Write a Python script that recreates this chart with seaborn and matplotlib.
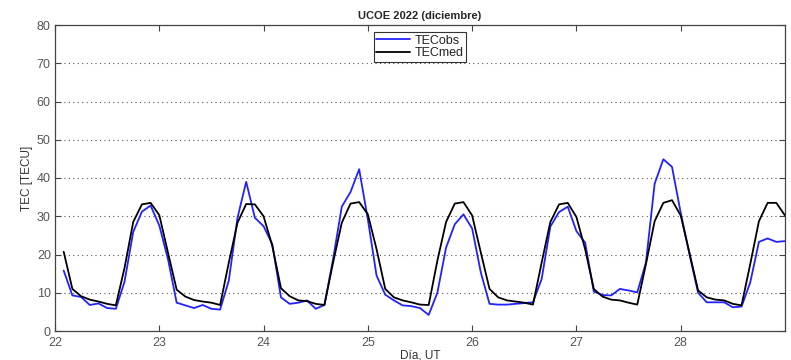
import numpy as np
import pandas as pd
import matplotlib
matplotlib.use("Agg")
import matplotlib.pyplot as plt
import seaborn as sns

# Time: every 2 h from 22 Dec 02 UT to 29 Dec 00 UT (day-of-month units)
steps = list(range(1, 85))
tec_med = [20.7, 11, 9.1, 8.2, 7.7, 7.1, 6.7, 16.5, 28.5, 33.1, 33.5, 30.3,
           20.5, 10.8, 9.0, 8.1, 7.7, 7.4, 6.8, 17.9, 28.3, 33.2, 33.1, 30.0,
           22.3, 11.2, 9.1, 8.0, 7.8, 7.1, 6.8, 17.9, 28.3, 33.3, 33.7, 30.5,
           21.4, 11.0, 8.8, 8.0, 7.5, 6.9, 6.8, 18.4, 28.5, 33.3, 33.7, 30.2,
           20.5, 11.0, 8.8, 8.0, 7.7, 7.4, 6.9, 17.9, 28.5, 33.1, 33.5, 29.8,
           21.4, 11.0, 9.0, 8.2, 8.0, 7.4, 6.9, 17.5, 28.7, 33.5, 34.2, 30.2,
           20.5, 10.6, 8.8, 8.2, 8.0, 7.1, 6.7, 17.5, 28.7, 33.5, 33.5, 30.2]
tec_obs = [15.8, 9.3, 8.9, 6.8, 7.2, 6.0, 5.8, 12.9, 25.9, 31.2, 32.8, 27.6,
           18.8, 7.4, 6.7, 6.0, 6.8, 5.8, 5.6, 13.2, 29.6, 39.0, 29.6, 27.4,
           22.7, 8.8, 7.1, 7.4, 8.0, 5.8, 6.8, 18.8, 32.5, 36.3, 42.3, 29.2,
           14.5, 9.5, 8.0, 6.7, 6.5, 6.0, 4.2, 10.0, 21.8, 27.9, 30.5, 26.8,
           15.3, 7.1, 6.9, 6.9, 7.1, 7.3, 7.5, 13.6, 27.3, 31.1, 32.5, 26.1,
           23.1, 10.3, 9.4, 9.3, 11.0, 10.6, 10.1, 17.9, 38.5, 44.9, 42.9, 30.9,
           20.1, 10.0, 7.5, 7.5, 7.5, 6.2, 6.4, 12.7, 23.3, 24.2, 23.3, 23.5]
x_ticks = [22, 23, 24, 25, 26, 27, 28]
y_ticks = [0, 10, 20, 30, 40, 50, 60, 70, 80]

day = [22 + s / 12 for s in steps]
df = pd.DataFrame({"day": day * 2,
                   "TEC": tec_obs + tec_med,
                   "serie": ["TECobs"] * len(day) + ["TECmed"] * len(day)})

sns.set_style("white")
plt.rcParams['font.family'] = ['Liberation Sans', 'DejaVu Sans']

fig = plt.figure(figsize=(7.91, 3.6), dpi=100)
ax = fig.add_axes([55 / 791, 29 / 360, 730 / 791, 306 / 360])

sns.lineplot(data=df, x="day", y="TEC", hue="serie",
             palette={"TECobs": "#2222ff", "TECmed": "#000000"},
             linewidth=1.3, ax=ax)

ax.set_xlim(22, 29)
ax.set_ylim(0, 80)
ax.set_xticks(x_ticks)
ax.set_yticks(y_ticks)
ax.set_xticklabels([str(t) for t in x_ticks])
ax.set_yticklabels([str(t) for t in y_ticks])
ax.yaxis.grid(True, linestyle=(0, (1, 3)), color="#555555", linewidth=0.8)
ax.xaxis.grid(False)
ax.tick_params(direction="in", length=4, width=0.8, colors="#444444",
               labelsize=9, top=True, right=True, bottom=True, left=True,
               labelcolor="#555555", pad=3)
ax.tick_params(axis="x", pad=4.5)
for sp in ax.spines.values():
    sp.set_color("#444444")
    sp.set_linewidth(0.9)

ax.set_xlabel("Día, UT", fontsize=8.5, color="#333333", labelpad=0)
ax.set_ylabel("TEC [TECU]", fontsize=8.5, color="#333333", labelpad=3)
ax.set_title("UCOE 2022 (diciembre)", fontsize=8, fontweight="bold", pad=4)

leg = ax.legend(loc="upper center", bbox_to_anchor=(0.5, 0.985), fontsize=9,
                frameon=True, fancybox=False, edgecolor="black",
                handlelength=2.7, handletextpad=0.4, borderpad=0.2,
                labelspacing=0.05, borderaxespad=0.2)
leg.get_frame().set_linewidth(0.8)
for t in leg.get_texts():
    t.set_color("#222222")

fig.savefig("out.png", dpi=100)
